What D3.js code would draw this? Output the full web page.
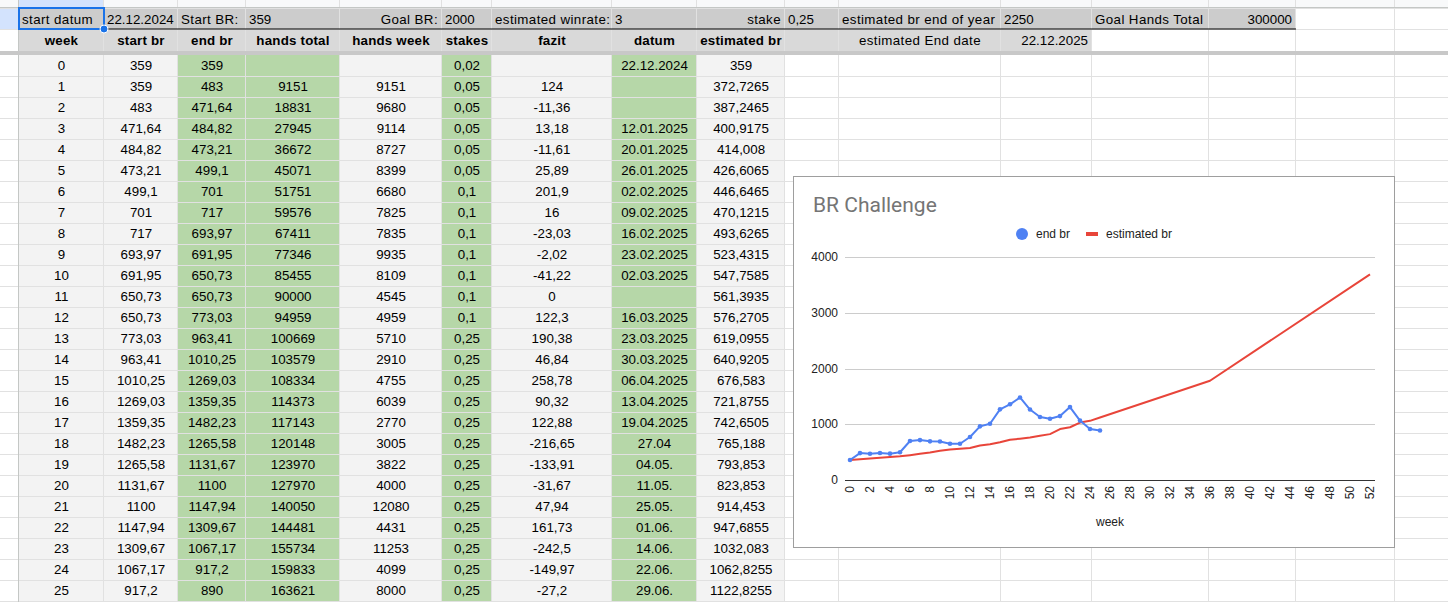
<!DOCTYPE html>
<html>
<head>
<meta charset="utf-8">
<script src="https://cdn.jsdelivr.net/npm/d3@7"></script>
<style>
html, body { margin: 0; padding: 0; background: #fff; overflow: hidden; }
svg { display: block; font-family: "Liberation Sans", Arial, sans-serif; }
</style>
</head>
<body>
<svg id="sheet" width="1448" height="602"></svg>
<script>
// ---- sheet data ----
var weeks = [0,1,2,3,4,5,6,7,8,9,10,11,12,13,14,15,16,17,18,19,20,21,22,23,24,25];
var startBr = [359,359,483,471.64,484.82,473.21,499.1,701,717,693.97,691.95,650.73,650.73,773.03,963.41,1010.25,1269.03,1359.35,1482.23,1265.58,1131.67,1100,1147.94,1309.67,1067.17,917.2];
var endBr = [359,483,471.64,484.82,473.21,499.1,701,717,693.97,691.95,650.73,650.73,773.03,963.41,1010.25,1269.03,1359.35,1482.23,1265.58,1131.67,1100,1147.94,1309.67,1067.17,917.2,890];
var handsTotal = [null,9151,18831,27945,36672,45071,51751,59576,67411,77346,85455,90000,94959,100669,103579,108334,114373,117143,120148,123970,127970,140050,144481,155734,159833,163621];
var handsWeek = [null,9151,9680,9114,8727,8399,6680,7825,7835,9935,8109,4545,4959,5710,2910,4755,6039,2770,3005,3822,4000,12080,4431,11253,4099,8000];
var stakes = [0.02,0.05,0.05,0.05,0.05,0.05,0.1,0.1,0.1,0.1,0.1,0.1,0.1,0.25,0.25,0.25,0.25,0.25,0.25,0.25,0.25,0.25,0.25,0.25,0.25,0.25];
var fazit = [null,124,-11.36,13.18,-11.61,25.89,201.9,16,-23.03,-2.02,-41.22,0,122.3,190.38,46.84,258.78,90.32,122.88,-216.65,-133.91,-31.67,47.94,161.73,-242.5,-149.97,-27.2];
var datum = ["22.12.2024","","","12.01.2025","20.01.2025","26.01.2025","02.02.2025","09.02.2025","16.02.2025","23.02.2025","02.03.2025","","16.03.2025","23.03.2025","30.03.2025","06.04.2025","13.04.2025","19.04.2025","27.04","04.05.","11.05.","25.05.","01.06.","14.06.","22.06.","29.06."];
var estBr = [359,372.7265,387.2465,400.9175,414.008,426.6065,446.6465,470.1215,493.6265,523.4315,547.7585,561.3935,576.2705,619.0955,640.9205,676.583,721.8755,742.6505,765.188,793.853,823.853,914.453,947.6855,1032.083,1062.8255,1122.8255];
// estimated br further out (only these are plotted past week 25)
var estWeeksLate = [36, 52];
var estBrLate = [1783, 3694];

var headerNames = ["week","start br","end br","hands total","hands week","stakes","fazit","datum","estimated br"];
// first row: [column index, text, align]
var topRow = [
  [0,"start datum","start"],[1,"22.12.2024","start"],[2,"Start BR:","start"],[3,"359","start"],
  [4,"Goal BR:","end"],[5,"2000","start"],[6,"estimated winrate:","start"],[7,"3","start"],
  [8,"stake","end"],[9,"0,25","start"],[10,"estimated br end of year","start"],[11,"2250","start"],
  [12,"Goal Hands Total","start"],[13,"300000","end"]
];
var secondRowExtra = [[10,"estimated End date","middle"],[11,"22.12.2025","end"]];

var chartTitle = "BR Challenge";
var yTicks = [0,1000,2000,3000,4000];
var xCategories = d3.range(0, 53);

// ---- layout ----
var colEdges = [19,104,178,246,340,442,492,612,697,785,839,1001,1092,1209,1296,1395,1494];
var GREEN = "#b6d7a8", LIGHT = "#f3f3f3", GRID = "#e1e1e1";
var rowTop = 55, rowH = 21, FS = 13.33;

var svg = d3.select("#sheet");
var fmt = function(v) { return v == null ? "" : String(v).replace(".", ","); };
// windows-style hinting makes letters a bit wider than digits
var spacing = function(t) { return /[a-zA-Z]/.test(t) ? 0.4 : 0; };

var cols = [
  {vals: weeks, fill: LIGHT},
  {vals: startBr, fill: LIGHT},
  {vals: endBr, fill: GREEN},
  {vals: handsTotal, fill: GREEN},
  {vals: handsWeek, fill: LIGHT},
  {vals: stakes, fill: GREEN},
  {vals: fazit, fill: LIGHT},
  {vals: datum, fill: GREEN},
  {vals: estBr, fill: LIGHT}
];

var rowY = d3.scaleBand().domain(weeks).range([rowTop, rowTop + rowH * weeks.length]);

// column header strip (letters are scrolled off)
svg.append("rect").attr("x", 0).attr("y", 0).attr("width", 1448).attr("height", 8).attr("fill", "#f8f9fa");
svg.append("rect").attr("x", 19).attr("y", 0).attr("width", 85).attr("height", 8).attr("fill", "#d3e3fd");
svg.append("rect").attr("x", 0).attr("y", 8).attr("width", 19).attr("height", 21).attr("fill", "#d3e3fd");

// header rows backgrounds
svg.append("rect").attr("x", 19).attr("y", 8).attr("width", 1296 - 19).attr("height", 21).attr("fill", "#cccccc");
svg.append("rect").attr("x", 19).attr("y", 29).attr("width", 1092 - 19).attr("height", 22).attr("fill", "#d9d9d9");

// data cell backgrounds
cols.forEach(function(c, ci) {
  svg.append("rect")
    .attr("x", colEdges[ci]).attr("y", rowTop)
    .attr("width", colEdges[ci + 1] - colEdges[ci])
    .attr("height", rowH * weeks.length + 2)
    .attr("fill", c.fill);
});

// grid lines
var hLines = [8, 29].concat(weeks.map(function(w) { return rowY(w) + rowH; }));
svg.selectAll("line.h").data(hLines).enter().append("line")
  .attr("x1", 0).attr("x2", 1448)
  .attr("y1", function(d) { return d + 0.5; }).attr("y2", function(d) { return d + 0.5; })
  .attr("stroke", GRID);
svg.selectAll("line.v").data(colEdges).enter().append("line")
  .attr("x1", function(d) { return d - 0.5; }).attr("x2", function(d) { return d - 0.5; })
  .attr("y1", 0).attr("y2", 602)
  .attr("stroke", function(d) { return d === 19 ? "#c4c7c5" : GRID; });
svg.append("line").attr("x1", 0).attr("x2", 1448).attr("y1", 7.5).attr("y2", 7.5).attr("stroke", "#c4c7c5");

// black border under the first row
svg.append("line").attr("x1", 19).attr("x2", 1296).attr("y1", 29).attr("y2", 29).attr("stroke", "#000").attr("stroke-width", 1.2);

// frozen rows divider
svg.append("rect").attr("x", 0).attr("y", 51).attr("width", 1448).attr("height", 4).attr("fill", "#c8c8c8");

// top row text
svg.selectAll("text.top").data(topRow).enter().append("text")
  .attr("x", function(d) {
    if (d[2] === "end") return colEdges[d[0] + 1] - 4;
    return colEdges[d[0]] + 3;
  })
  .attr("y", 23.5)
  .attr("text-anchor", function(d) { return d[2]; })
  .attr("font-size", FS).attr("fill", "#000")
  .attr("letter-spacing", function(d) { return spacing(d[1]); })
  .text(function(d) { return d[1]; });

// second row headers
svg.selectAll("text.hdr").data(headerNames).enter().append("text")
  .attr("x", function(d, i) { return (colEdges[i] + colEdges[i + 1]) / 2; })
  .attr("y", 45)
  .attr("text-anchor", "middle").attr("font-size", FS).attr("font-weight", "bold")
  .attr("letter-spacing", 0.2)
  .text(function(d) { return d; });
svg.selectAll("text.hdr2").data(secondRowExtra).enter().append("text")
  .attr("x", function(d) {
    return d[2] === "end" ? colEdges[d[0] + 1] - 4 : (colEdges[d[0]] + colEdges[d[0] + 1]) / 2;
  })
  .attr("y", 45)
  .attr("text-anchor", function(d) { return d[2]; }).attr("font-size", FS)
  .attr("letter-spacing", function(d) { return spacing(d[1]); })
  .text(function(d) { return d[1]; });

// data cells
cols.forEach(function(c, ci) {
  svg.append("g").selectAll("text").data(c.vals).enter().append("text")
    .attr("x", (colEdges[ci] + colEdges[ci + 1]) / 2)
    .attr("y", function(d, i) { return rowY(weeks[i]) + 15; })
    .attr("text-anchor", "middle").attr("font-size", FS).attr("fill", "#000")
    .text(function(d) { return typeof d === "string" ? d : fmt(d); });
});

// selected cell A1
svg.append("rect").attr("x", 19).attr("y", 8).attr("width", 85).attr("height", 21)
  .attr("fill", "none").attr("stroke", "#1a73e8").attr("stroke-width", 2);
svg.append("circle").attr("cx", 104).attr("cy", 29).attr("r", 4)
  .attr("fill", "#1a73e8").attr("stroke", "#fff").attr("stroke-width", 1);

// ---- chart ----
var chart = svg.append("g");
chart.append("rect").attr("x", 793.5).attr("y", 176.5).attr("width", 601).attr("height", 371)
  .attr("fill", "#fff").attr("stroke", "#9e9e9e");

chart.append("text").attr("x", 813).attr("y", 212).attr("font-size", 21).attr("fill", "#757575")
  .attr("font-family", "Roboto, 'Liberation Sans', Arial, sans-serif")
  .text(chartTitle);

var BLUE = "#4f81f3", RED = "#e8453a";
var x = d3.scaleBand().domain(xCategories).range([845, 1375]);
var y = d3.scaleLinear().domain([0, 4000]).range([480, 257.3]);
var cx = function(w) { return x(w) + x.bandwidth() / 2; };

chart.selectAll("line.grid").data(yTicks).enter().append("line")
  .attr("x1", 845).attr("x2", 1375)
  .attr("y1", function(d) { return Math.round(y(d)) + 0.5; })
  .attr("y2", function(d) { return Math.round(y(d)) + 0.5; })
  .attr("stroke", function(d) { return d === 0 ? "#333" : "#cccccc"; });

chart.selectAll("text.yt").data(yTicks).enter().append("text")
  .attr("x", 838).attr("y", function(d) { return y(d) + 4; })
  .attr("text-anchor", "end").attr("font-size", 12).attr("fill", "#222")
  .text(function(d) { return d; });

chart.selectAll("text.xt").data(xCategories.filter(function(w) { return w % 2 === 0; })).enter().append("text")
  .attr("transform", function(d) { return "translate(" + cx(d) + ",486) rotate(-90)"; })
  .attr("dy", "0.35em").attr("text-anchor", "end").attr("font-size", 12).attr("fill", "#222")
  .text(function(d) { return d; });

chart.append("text").attr("x", 1110).attr("y", 526).attr("text-anchor", "middle")
  .attr("font-size", 12).attr("fill", "#222").text("week");

var line = d3.line().x(function(d) { return cx(d[0]); }).y(function(d) { return y(d[1]); });
var estPts = weeks.map(function(w, i) { return [w, estBr[i]]; })
  .concat(estWeeksLate.map(function(w, i) { return [w, estBrLate[i]]; }));
var endPts = weeks.map(function(w, i) { return [w, endBr[i]]; });

chart.append("path").datum(estPts).attr("d", line)
  .attr("fill", "none").attr("stroke", RED).attr("stroke-width", 2).attr("stroke-linejoin", "round");
chart.append("path").datum(endPts).attr("d", line)
  .attr("fill", "none").attr("stroke", BLUE).attr("stroke-width", 2).attr("stroke-linejoin", "round");
chart.selectAll("circle.pt").data(endPts).enter().append("circle")
  .attr("cx", function(d) { return cx(d[0]); }).attr("cy", function(d) { return y(d[1]); })
  .attr("r", 2.3).attr("fill", BLUE);

// legend
chart.append("circle").attr("cx", 1022).attr("cy", 234).attr("r", 6).attr("fill", BLUE);
chart.append("text").attr("x", 1036).attr("y", 238).attr("font-size", 12).attr("fill", "#222").text("end br");
chart.append("rect").attr("x", 1086).attr("y", 232).attr("width", 12).attr("height", 4).attr("fill", RED);
chart.append("text").attr("x", 1106).attr("y", 238).attr("font-size", 12).attr("fill", "#222").text("estimated br");
</script>
</body>
</html>
